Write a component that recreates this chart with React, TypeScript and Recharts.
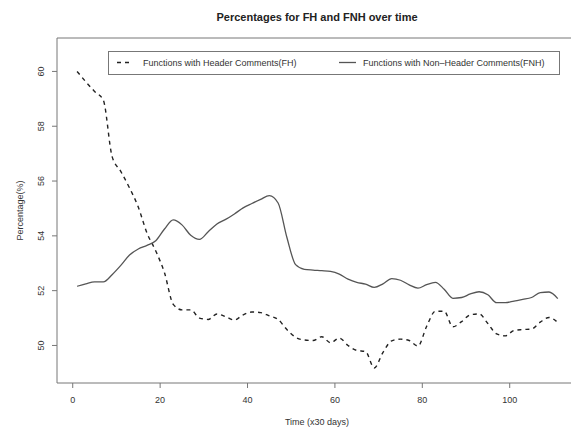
import { LineChart, Line, XAxis, YAxis, ReferenceArea, Legend } from "recharts"

// time points (x30 days)
const time = [
  1, 3, 5, 7, 9, 11, 13, 15, 17, 19, 21, 23, 25, 27, 29, 31, 33, 35, 37, 39,
  41, 43, 45, 47, 49, 51, 53, 55, 57, 59, 61, 63, 65, 67, 69, 71, 73, 75, 77, 79,
  81, 83, 85, 87, 89, 91, 93, 95, 97, 99, 101, 103, 105, 107, 109, 111,
]

// Functions with Header Comments (FH), %
const fhValues = [
  60.0, 59.62, 59.27, 58.95, 56.9, 56.35, 55.75, 55.05, 54.1, 53.45,
  52.65, 51.5, 51.3, 51.3, 51.0, 50.95, 51.15, 51.05, 50.93, 51.12,
  51.22, 51.2, 51.08, 50.95, 50.58, 50.3, 50.2, 50.18, 50.32, 50.1,
  50.27, 50.0, 49.82, 49.78, 49.18, 49.75, 50.17, 50.23, 50.18, 49.98,
  50.7, 51.25, 51.25, 50.68, 50.87, 51.12, 51.15, 50.8, 50.42, 50.35,
  50.55, 50.58, 50.6, 50.85, 51.02, 50.84,
]

// Functions with Non-Header Comments (FNH), %
const fnhValues = [
  52.16, 52.25, 52.32, 52.32, 52.58, 52.92, 53.3, 53.52, 53.65, 53.82,
  54.25, 54.58, 54.4, 54.02, 53.87, 54.15, 54.43, 54.6, 54.8, 55.02,
  55.18, 55.33, 55.47, 55.2, 53.95, 52.95, 52.78, 52.75, 52.73, 52.7,
  52.6, 52.42, 52.3, 52.24, 52.12, 52.25, 52.44, 52.38, 52.21, 52.09,
  52.22, 52.3, 52.05, 51.72, 51.75, 51.88, 51.96, 51.85, 51.56, 51.56,
  51.62, 51.68, 51.75, 51.93, 51.95, 51.71,
]

const xTicks = [0, 20, 40, 60, 80, 100]
const yTicks = [50, 52, 54, 56, 58, 60]

const xDomain = [-3.6, 115.4]
const yDomain = [48.63, 61.22]

const fhLabel = "Functions with Header Comments(FH)"
const fnhLabel = "Functions with Non\u2013Header Comments(FNH)"

const data = time.map((t, i) => ({ time: t, fh: fhValues[i], fnh: fnhValues[i] }))

const FONT = "'Liberation Sans', Arial, Helvetica, sans-serif"
const AXIS = "#777"
const TEXT = "#333"

function YTick({ x, y, payload }: any) {
  return (
    <text
      x={x}
      y={y}
      transform={`rotate(-90 ${x} ${y})`}
      textAnchor="middle"
      fontSize={9}
      fontFamily={FONT}
      fill={TEXT}
    >
      {payload.value}
    </text>
  )
}

function YLabel({ viewBox }: any) {
  const x = viewBox.x + 23
  const y = viewBox.y + viewBox.height / 2
  return (
    <text
      x={x}
      y={y}
      transform={`rotate(-90 ${x} ${y})`}
      textAnchor="middle"
      fontSize={9}
      fontFamily={FONT}
      fill={TEXT}
    >
      Percentage(%)
    </text>
  )
}

function XLabel({ viewBox }: any) {
  return (
    <text
      x={viewBox.x + viewBox.width / 2}
      y={viewBox.y + 42}
      textAnchor="middle"
      fontSize={9}
      fontFamily={FONT}
      fill={TEXT}
    >
      Time (x30 days)
    </text>
  )
}

function LegendBox() {
  return (
    <svg width={452} height={24} style={{ display: "block" }}>
      <rect x={0.5} y={0.5} width={451} height={23} fill="#fff" stroke={AXIS} />
      <line x1={9} x2={24} y1={11.5} y2={11.5} stroke="#222" strokeWidth={1.4} strokeDasharray="4 4" />
      <text x={35} y={11.5} dominantBaseline="central" fontSize={9} fontFamily={FONT} fill={TEXT}>
        {fhLabel}
      </text>
      <line x1={231} x2={248} y1={11.5} y2={11.5} stroke="#555" strokeWidth={1.3} />
      <text x={255} y={11.5} dominantBaseline="central" fontSize={9} fontFamily={FONT} fill={TEXT}>
        {fnhLabel}
      </text>
    </svg>
  )
}

export default function App() {
  return (
    <div
      style={{
        position: "relative",
        width: 571,
        height: 428,
        overflow: "hidden",
        background: "#fff",
        fontFamily: FONT,
      }}
    >
      <style>{"body { margin: 0; }"}</style>
      <div
        style={{
          position: "absolute",
          top: 10,
          left: 0,
          width: 634,
          textAlign: "center",
          fontSize: 11,
          fontWeight: "bold",
          lineHeight: "14px",
          color: "#222",
        }}
      >
        Percentages for FH and FNH over time
      </div>
      <LineChart width={600} height={428} data={data} margin={{ top: 38, right: 23, bottom: 0, left: 0 }}>
        <XAxis
          dataKey="time"
          type="number"
          domain={xDomain}
          ticks={xTicks}
          allowDataOverflow
          height={45}
          axisLine={false}
          tickLine={{ stroke: AXIS }}
          tickSize={5}
          tickMargin={9}
          tick={{ fontSize: 9, fill: TEXT, fontFamily: FONT }}
          label={<XLabel />}
        />
        <YAxis
          type="number"
          domain={yDomain}
          ticks={yTicks}
          allowDataOverflow
          width={57}
          axisLine={false}
          tickLine={{ stroke: AXIS }}
          tickSize={5}
          tickMargin={8}
          tick={<YTick />}
          label={<YLabel />}
        />
        <ReferenceArea
          x1={xDomain[0]}
          x2={xDomain[1]}
          y1={yDomain[0]}
          y2={yDomain[1]}
          fill="none"
          stroke={AXIS}
          strokeWidth={1}
        />
        <Legend
          layout="horizontal"
          verticalAlign="middle"
          align="center"
          wrapperStyle={{ top: 51, left: 108, width: 452, height: 24 }}
          content={() => <LegendBox />}
        />
        <Line
          dataKey="fh"
          name={fhLabel}
          type="monotone"
          stroke="#222"
          strokeWidth={1.4}
          strokeDasharray="4 4"
          dot={false}
          isAnimationActive={false}
        />
        <Line
          dataKey="fnh"
          name={fnhLabel}
          type="monotone"
          stroke="#555"
          strokeWidth={1.3}
          dot={false}
          isAnimationActive={false}
        />
      </LineChart>
    </div>
  )
}
